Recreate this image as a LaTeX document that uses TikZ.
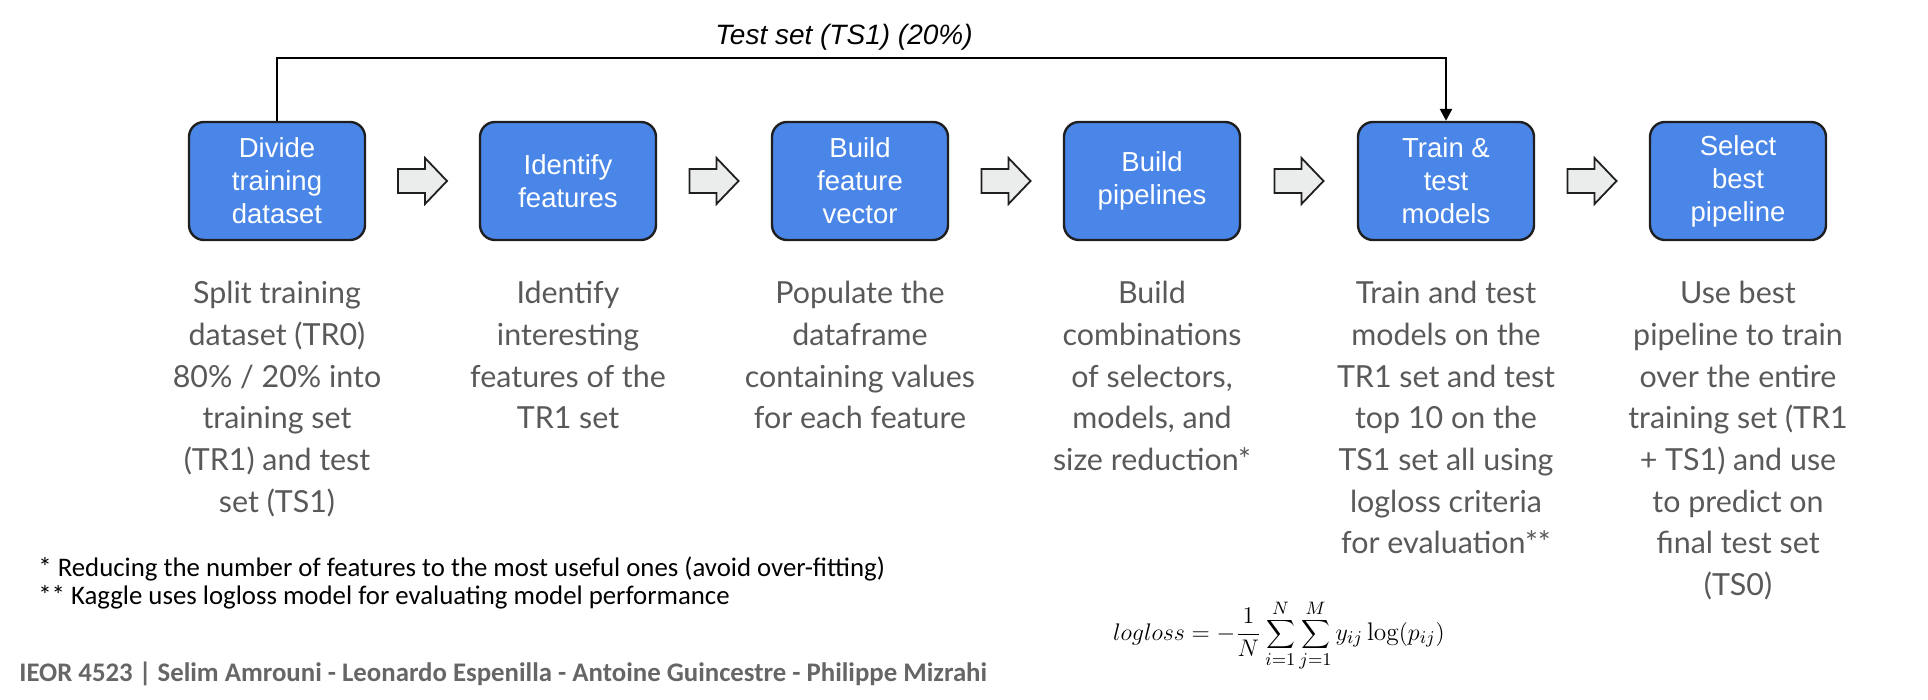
\documentclass[tikz,border=0pt]{standalone}
\usepackage{fontspec}
\usetikzlibrary{arrows.meta,calc}
\newfontfamily\arialf{Liberation Sans}
\newfontfamily\latof{Lato}
\newfontfamily\calf{Carlito}
\definecolor{boxblue}{HTML}{4A86E8}
\definecolor{edgec}{HTML}{1F1F1F}
\definecolor{descc}{HTML}{595959}
\definecolor{arrfill}{HTML}{EBEDED}
\definecolor{footc}{HTML}{666666}
\begin{document}
\begin{tikzpicture}[x=0.5pt,y=-0.5pt,
 stepbox/.style={draw=edgec, line width=1.2pt, fill=boxblue, rounded corners=7.5pt,
   minimum width=88pt, minimum height=59pt, inner sep=0pt, align=center, text=white,
   font=\arialf\fontsize{13.75}{16.5}\selectfont},
 blockarrow/.style={draw=edgec, line width=0.9pt, fill=arrfill, line join=miter},
 desctext/.style={anchor=north, align=center, inner sep=0pt, text=descc,
   font=\latof\fontsize{15.2}{20.85}\selectfont},
 testline/.style={draw=black, line width=1.3pt, -{Triangle[length=6pt,width=6pt]}},
 footnote/.style={anchor=base west, inner sep=0pt, text=black, font=\calf\fontsize{13.4}{15}\selectfont},
 footer/.style={anchor=base west, inner sep=0pt, text=footc, font=\calf\bfseries\fontsize{13.4}{16}\selectfont},
 pics/fatarrow/.style={code={
   \path[blockarrow] (-24.5,-12) -- (2.5,-12) -- (2.5,-23) -- (24.5,0) -- (2.5,23) -- (2.5,12) -- (-24.5,12) -- cycle;
 }}
]
\useasboundingbox (0,0) rectangle (1928,700);

% step boxes
\node[stepbox] (b1) at (277,181) {Divide\\training\\dataset};
\node[stepbox] (b2) at (568,181) {Identify\\features};
\node[stepbox] (b3) at (860,181) {Build\\feature\\vector};
\node[stepbox] (b4) at (1152,181) {Build\\pipelines};
\node[stepbox] (b5) at (1446,181) {Train \&\\test\\models};
\node[stepbox] (b6) at (1738,181) {Select\\best\\pipeline};

% block arrows between the boxes
\coordinate (a1) at ($(b1.east)!0.5!(b2.west)$);
\coordinate (a2) at ($(b2.east)!0.5!(b3.west)$);
\coordinate (a3) at ($(b3.east)!0.5!(b4.west)$);
\coordinate (a4) at ($(b4.east)!0.5!(b5.west)$);
\coordinate (a5) at ($(b5.east)!0.5!(b6.west)$);
\foreach \a in {a1,a2,a3,a4,a5} { \pic at (\a) {fatarrow}; }

% test set connector
\coordinate (tsy) at (0,58);
\draw[testline] (b1.north) -- (b1.north |- tsy) -| (b5.north);
\node[anchor=base, inner sep=0pt, font=\arialf\itshape\fontsize{14}{16}\selectfont] (tlabel) at (844,45) {Test set (TS1) (20\%)};

% descriptions
\coordinate (dtop) at (0,281);
\node[desctext] (d1) at (b1.center |- dtop) {Split training\\dataset (TR0)\\80\% / 20\% into\\training set\\(TR1) and test\\set (TS1)};
\node[desctext] (d2) at (b2.center |- dtop) {Identify\\interesting\\features of the\\TR1 set};
\node[desctext] (d3) at (b3.center |- dtop) {Populate the\\dataframe\\containing values\\for each feature};
\node[desctext] (d4) at (b4.center |- dtop) {Build\\combinations\\of selectors,\\models, and\\size reduction*};
\node[desctext] (d5) at (b5.center |- dtop) {Train and test\\models on the\\TR1 set and test\\top 10 on the\\TS1 set all using\\logloss criteria\\for evaluation**};
\node[desctext] (d6) at (b6.center |- dtop) {Use best\\pipeline to train\\over the entire\\training set (TR1\\+ TS1) and use\\to predict on\\final test set\\(TS0)};

% footnotes
\node[footnote] (fn1) at (38,576) {* Reducing the number of features to the most useful ones (avoid over-fitting)};
\node[footnote] (fn2) at (38,604) {** Kaggle uses logloss model for evaluating model performance};

% footer
\node[footer] (foot) at (19,681) {IEOR 4523 | Selim Amrouni - Leonardo Espenilla - Antoine Guincestre - Philippe Mizrahi};

% formula
\node[anchor=base, inner sep=0pt, font=\fontsize{12.7}{15}\selectfont] (formula) at (1279,640)
  {$\displaystyle logloss = -\frac{1}{N}\sum_{i=1}^{N}\sum_{j=1}^{M} y_{ij}\log(p_{ij})$};
\end{tikzpicture}
\end{document}
